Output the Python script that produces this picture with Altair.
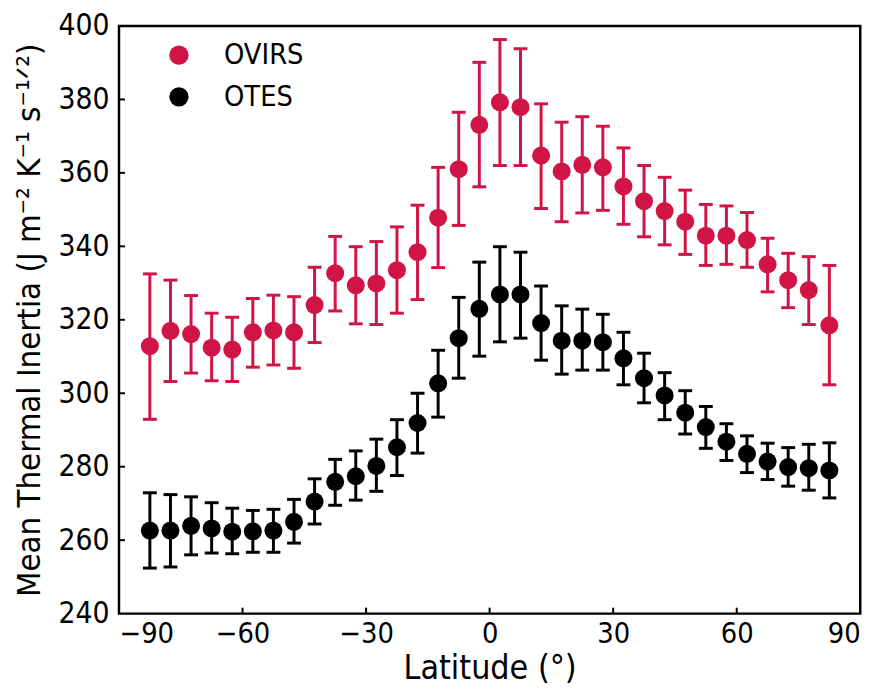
import altair as alt
import pandas as pd

# ---------------- data ----------------
latitude = [-82.5, -77.5, -72.5, -67.5, -62.5, -57.5, -52.5, -47.5, -42.5, -37.5,
            -32.5, -27.5, -22.5, -17.5, -12.5, -7.5, -2.5, 2.5, 7.5, 12.5,
            17.5, 22.5, 27.5, 32.5, 37.5, 42.5, 47.5, 52.5, 57.5, 62.5,
            67.5, 72.5, 77.5, 82.5]

ovirs_mean = [312.8, 317.0, 316.1, 312.4, 311.9, 316.6, 317.1, 316.6, 324.0, 332.7,
              329.4, 329.9, 333.5, 338.4, 347.8, 361.0, 373.1, 379.2, 377.9, 364.7,
              360.4, 362.2, 361.5, 356.3, 352.3, 349.6, 346.7, 342.9, 342.9, 341.7,
              335.1, 330.8, 328.1, 318.5]
ovirs_hi = [332.5, 330.8, 326.6, 321.8, 320.7, 325.8, 326.7, 326.3, 334.3, 342.7,
            339.9, 341.3, 345.3, 351.2, 361.5, 376.5, 390.1, 396.3, 393.8, 378.8,
            373.8, 375.3, 372.7, 366.8, 362.0, 358.8, 355.3, 351.4, 351.0, 349.2,
            342.2, 338.1, 337.2, 334.8]
ovirs_lo = [292.9, 303.2, 305.5, 303.4, 303.2, 307.1, 307.7, 306.8, 313.8, 322.4,
            318.9, 318.7, 321.8, 325.5, 334.2, 345.7, 356.2, 362.0, 362.0, 350.3,
            346.7, 349.1, 349.8, 346.0, 342.6, 340.4, 337.8, 334.8, 335.1, 334.3,
            327.6, 323.3, 318.7, 302.3]

otes_mean = [262.6, 262.6, 263.9, 263.2, 262.3, 262.4, 262.6, 265.0, 270.5, 275.9,
             277.4, 280.2, 285.3, 291.9, 302.7, 315.0, 323.0, 326.9, 326.9, 319.1,
             314.3, 314.3, 313.9, 309.5, 304.1, 299.4, 294.7, 290.8, 286.8, 283.5,
             281.4, 279.9, 279.6, 279.0]
otes_hi = [272.9, 272.4, 271.8, 270.2, 268.7, 268.1, 268.4, 271.1, 276.7, 282.0,
           284.3, 287.5, 292.8, 300.0, 311.7, 326.1, 335.7, 339.9, 338.4, 329.2,
           323.8, 322.9, 321.5, 316.6, 310.9, 305.6, 300.7, 296.4, 291.7, 288.4,
           286.4, 285.2, 286.1, 286.5]
otes_lo = [252.4, 252.7, 256.0, 256.5, 256.3, 256.7, 256.7, 259.2, 264.4, 269.5,
           270.9, 273.3, 277.6, 283.7, 293.5, 304.1, 310.1, 314.0, 315.0, 309.0,
           305.2, 306.3, 306.3, 302.3, 297.4, 292.8, 288.9, 285.0, 281.7, 278.4,
           276.5, 274.7, 273.6, 271.5]

series_names = ["OVIRS", "OTES"]
series_colors = ["#D11446", "#000000"]

x_ticks = [-90, -60, -30, 0, 30, 60, 90]
y_ticks = [240, 260, 280, 300, 320, 340, 360, 380, 400]

# ---------------- build tables ----------------
df = pd.concat([
    pd.DataFrame({"lat": latitude, "mean": ovirs_mean, "lo": ovirs_lo, "hi": ovirs_hi, "series": "OVIRS"}),
    pd.DataFrame({"lat": latitude, "mean": otes_mean, "lo": otes_lo, "hi": otes_hi, "series": "OTES"}),
], ignore_index=True)
df["order"] = df["series"].map({"OTES": 0, "OVIRS": 1})

W, H = 748, 593
FONT = "DejaVu Sans Condensed, Liberation Sans Narrow, sans-serif"

xscale = alt.Scale(domain=[-90, 90], nice=False, zero=False)
yscale = alt.Scale(domain=[240, 400], nice=False, zero=False)

xaxis = alt.Axis(values=x_ticks, tickSize=0, domain=False, grid=False,
                 labelFontSize=29, labelPadding=6, labelFont=FONT, labelColor="black",
                 title="Latitude (°)", titleFontSize=34, titleFont=FONT,
                 titleFontWeight="normal", titlePadding=3, titleColor="black")
yaxis = alt.Axis(values=y_ticks, tickSize=0, domain=False, grid=False,
                 labelFontSize=30, labelPadding=10, labelFont=FONT, labelColor="black",
                 title="Mean Thermal Inertia (J m⁻² K⁻¹ s⁻¹ᐟ²)", titleFontSize=33,
                 titleFont=FONT, titleFontWeight="normal", titlePadding=12,
                 titleColor="black")

base = alt.Chart(df)

points = base.mark_circle(size=330, opacity=1).encode(
    x=alt.X("lat:Q", scale=xscale, axis=xaxis),
    y=alt.Y("mean:Q", scale=yscale, axis=yaxis),
    color=alt.Color("series:N",
                    scale=alt.Scale(domain=series_names, range=series_colors),
                    legend=alt.Legend(title=None, orient="none", legendX=46, legendY=15,
                                      padding=0, symbolType="circle", symbolSize=380,
                                      symbolStrokeWidth=0, symbolOpacity=1,
                                      labelFontSize=29, labelFont=FONT, labelColor="black",
                                      labelOffset=31, rowPadding=12)),
    order=alt.Order("order:Q"),
)

err_layers = []
for name, col in zip(series_names[::-1], series_colors[::-1]):
    sub = base.transform_filter(alt.datum.series == name)
    err_layers.append(sub.mark_rule(strokeWidth=3, color=col).encode(
        x=alt.X("lat:Q", scale=xscale),
        y=alt.Y("lo:Q", scale=yscale),
        y2="hi:Q",
    ))
    err_layers.append(sub.transform_fold(["lo", "hi"], as_=["which", "cap"]).mark_rule(
        strokeWidth=3, color=col, xOffset=-7, x2Offset=7
    ).encode(
        x=alt.X("lat:Q", scale=xscale),
        x2="lat:Q",
        y=alt.Y("cap:Q", scale=yscale),
    ))

xt = alt.Chart(pd.DataFrame({"t": x_ticks[1:-1]})).mark_rule(color="black", strokeWidth=2).encode(
    x=alt.X("t:Q", scale=xscale), y=alt.value(H - 6), y2=alt.value(H)
)
yt = alt.Chart(pd.DataFrame({"t": y_ticks[1:-1]})).mark_rule(color="black", strokeWidth=2).encode(
    y=alt.Y("t:Q", scale=yscale), x=alt.value(0), x2=alt.value(6)
)

chart = alt.layer(*err_layers, points, xt, yt).properties(
    width=W, height=H,
    background="white",
    autosize=alt.AutoSizeParams(type="none"),
    padding={"left": 112, "top": 15, "right": 27, "bottom": 80},
).configure_view(stroke="black", strokeWidth=2.5)

chart.save("out.html", embed_options={"renderer": "svg", "actions": False})
